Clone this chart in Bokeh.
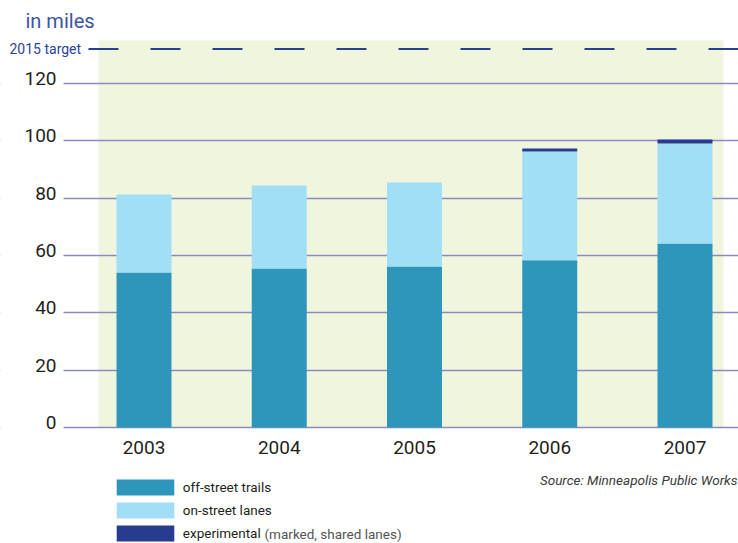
from bokeh.plotting import figure
from bokeh.models import (ColumnDataSource, Range1d, LinearAxis, FixedTicker, BoxAnnotation,
                          Label, Legend, LegendItem, Grid)
from bokeh.embed import file_html
from bokeh.resources import INLINE

# ---- data ----
years = ["2003", "2004", "2005", "2006", "2007"]
off_street = [54.1, 55.5, 56.2, 58.3, 64.2]
on_street = [27.2, 28.9, 29.3, 38.0, 34.9]
experimental = [0.0, 0.0, 0.0, 1.0, 1.4]
target_2015 = [132]
y_ticks = [0, 20, 40, 60, 80, 100, 120]
series_labels = ["off-street trails", "on-street lanes", "experimental"]
legend_note = "(marked, shared lanes)"
unit_label = "in miles"
target_label = "2015 target"
source_label = "Source: Minneapolis Public Works"

# ---- styling ----
FONT = "Roboto"
C_OFF = "#2e96bb"
C_ON = "#a1dff7"
C_EXP = "#263c8e"
C_BG = "#f0f5de"
C_GRID = "#8b8bbf"
C_BLUE = "#2d4394"
C_TEXT = "#231f20"

W, H = 738, 543
X0PX, XSTEP = 143.5, 135.25      # pixel of first category centre, pixels per category
Y0PX = 427                        # pixel of value 0
YPX_PER = (427 - 83) / 120.0      # pixels per mile


def dx(px):
    return (px - X0PX) / XSTEP


def dy(py):
    return (Y0PX - py) / YPX_PER


xs = list(range(len(years)))
source = ColumnDataSource(dict(x=xs, off=off_street, on=on_street, exp=experimental))

p = figure(width=W, height=H, output_backend="svg", toolbar_location=None,
           x_range=Range1d(dx(0), dx(W)), y_range=Range1d(dy(H), dy(0)),
           x_axis_location=None, y_axis_location=None,
           min_border=0, min_border_left=0, min_border_right=0,
           min_border_top=0, min_border_bottom=0)
p.outline_line_color = None
p.background_fill_color = "white"
p.border_fill_color = "white"
for g in p.grid:
    g.visible = False

# background panel
p.add_layout(BoxAnnotation(left=dx(98), right=dx(723), bottom=0, top=135,
                           fill_color=C_BG, fill_alpha=1, line_alpha=0, level="underlay"))

# horizontal grid
grid = Grid(dimension=1, ticker=FixedTicker(ticks=y_ticks), grid_line_color=C_GRID,
            grid_line_width=1.6)
p.add_layout(grid)
# keep the grid lines from running under the tick labels
p.add_layout(BoxAnnotation(left=dx(0), right=dx(63), bottom=dy(H), top=dy(0),
                           fill_color="white", fill_alpha=1, line_alpha=0, level="underlay"))

# y axis (slightly offset range so labels sit a little above their grid lines)
d = 1.8
p.extra_y_ranges = {"lbl": Range1d(dy(H) - d, dy(0) - d)}
yax = LinearAxis(y_range_name="lbl", ticker=FixedTicker(ticks=y_ticks), fixed_location=dx(63))
yax.axis_line_color = None
yax.major_tick_line_color = None
yax.minor_tick_line_color = None
yax.major_tick_out = 0
yax.major_tick_in = 0
yax.major_label_standoff = 7
yax.major_label_text_font = FONT
yax.major_label_text_font_size = "19px"
yax.major_label_text_color = C_TEXT
p.add_layout(yax, "left")

# x axis
xax = LinearAxis(ticker=FixedTicker(ticks=xs), fixed_location=0)
xax.major_label_overrides = {i: y for i, y in zip(xs, years)}
xax.axis_line_color = None
xax.major_tick_line_color = None
xax.minor_tick_line_color = None
xax.major_tick_out = 0
xax.major_tick_in = 0
xax.major_label_standoff = 13
xax.major_label_text_font = FONT
xax.major_label_text_font_size = "19px"
xax.major_label_text_color = C_TEXT
p.add_layout(xax, "below")

# bars
rs = p.vbar_stack(["off", "on", "exp"], x="x", width=55 / XSTEP, color=[C_OFF, C_ON, C_EXP],
                  line_width=0, source=source)

# 2015 target line
p.segment(x0=[dx(88)], x1=[dx(W)], y0=target_2015, y1=target_2015, line_color="#2b3f91",
          line_width=2, line_dash="30 32")

# texts
p.add_layout(Label(x=dx(25), y=dy(20), text=unit_label, text_font=FONT, text_font_size="20px",
                   text_color="#3b54a0", text_baseline="alphabetic"))
p.add_layout(Label(x=dx(9), y=dy(48), text=target_label, text_font=FONT, text_font_size="14px",
                   text_color=C_BLUE, text_baseline="alphabetic"))
p.add_layout(Label(x=dx(737), y=dy(479), text=source_label, text_font=FONT,
                   text_font_size="13.5px", text_font_style="italic", text_color="#3a3a3a",
                   text_align="right", text_baseline="alphabetic"))

# legend (area legend glyphs are drawn at 80% of their glyph box)
legend = Legend(items=[LegendItem(label=lbl, renderers=[r]) for lbl, r in zip(series_labels, rs)],
                location=(108.8, 0), orientation="vertical")
legend.glyph_width = 72
legend.glyph_height = 20
legend.label_height = 20
legend.label_width = 20
legend.spacing = 3
legend.padding = 0
legend.margin = 0
legend.label_standoff = 2
legend.border_line_alpha = 0
legend.background_fill_alpha = 0
legend.label_text_font = FONT
legend.label_text_font_size = "13.5px"
legend.label_text_color = C_TEXT
p.add_layout(legend, "center")

p.add_layout(Label(x=dx(264), y=dy(533), text=legend_note, text_font=FONT,
                   text_font_size="13.5px", text_color="#555555", text_baseline="middle"))

open("out.html", "w").write(file_html(p, INLINE))
